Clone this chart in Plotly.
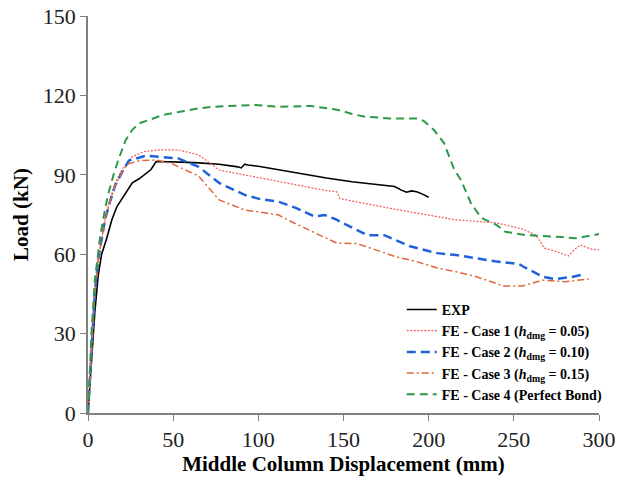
import plotly.graph_objects as go

# EXP
exp_x = [0, 2, 4, 6, 8, 11, 14, 17, 20, 23, 26, 30, 34, 37, 40, 45, 55, 65, 77, 88, 90, 92, 94, 100, 112, 125, 140, 155, 170, 180, 184, 187, 190, 193, 196, 200]
exp_y = [0, 20, 38, 52, 60, 66, 73, 78, 81, 84, 87, 88.5, 90.5, 92, 95, 95, 94.8, 94.5, 94, 93, 92.6, 94, 93.7, 93.2, 91.8, 90.3, 88.8, 87.4, 86.4, 85.6, 84.2, 83.4, 83.9, 83.6, 82.8, 81.5]

# FE - Case 1
c1_x = [0, 2, 4, 6, 8, 10, 13, 16, 20, 26, 33, 42, 53, 65, 77, 92, 100, 112, 125, 140, 146, 148, 160, 180, 205, 216, 240, 255, 263, 268, 275, 282, 286, 289, 295, 300]
c1_y = [0, 25, 45, 58, 66, 73, 81, 87, 92, 96.8, 98.8, 99.4, 99.4, 97.5, 91.8, 90, 89, 87.4, 86, 84, 83.6, 81, 79.5, 77, 74.2, 73, 71.8, 69.5, 67.2, 62.3, 61, 59.3, 62, 63.5, 62, 61.6]

# FE - Case 2
c2_x = [0, 2, 4, 6, 8, 10, 13, 16, 20, 24, 34, 44, 53, 65, 77, 92, 100, 112, 122, 133, 139, 145, 155, 164, 174, 189, 205, 216, 240, 253, 257, 267, 274, 284, 292]
c2_y = [0, 25, 45, 58, 66, 73, 80, 86, 91, 95.4, 97.2, 96.8, 96.2, 93, 86.9, 82.4, 81, 79.8, 77.5, 74.2, 74.8, 73.3, 70, 67.2, 67.2, 63, 60.4, 59.7, 57.2, 56.3, 54.8, 51.5, 50.6, 51.4, 52.5]

# FE - Case 3
c3_x = [0, 2, 4, 6, 8, 10, 13, 16, 20, 23, 30, 40, 49, 57, 65, 77, 92, 100, 112, 117, 132, 146, 158, 170, 181, 193, 205, 216, 228, 244, 255, 267, 280, 294]
c3_y = [0, 25, 45, 58, 66, 73, 80, 86, 91, 94, 95.3, 95.6, 94.3, 92, 89.5, 80.5, 76.7, 76, 74.8, 73, 68.5, 64.2, 64, 61.5, 59, 57.2, 54.8, 53.4, 51.5, 48, 48, 50.2, 49.6, 50.6]

# FE - Case 4
c4_x = [0, 2, 4, 7, 10, 12, 15, 18, 22, 26, 30, 40, 44, 54, 65, 73, 85, 98, 112, 122, 131, 147, 155, 162, 177, 193, 197, 203, 209, 215, 219, 225, 231, 240, 245, 257, 269, 278, 286, 298, 300]
c4_y = [0, 30, 50, 66, 77, 83, 90, 96, 103, 107, 109.4, 111.5, 112.6, 113.8, 115.1, 115.7, 115.9, 116.4, 115.7, 115.8, 116, 114.5, 113, 112, 111.3, 111.3, 110.4, 107, 102, 92, 88, 79, 73.7, 71, 68.5, 67.2, 66.9, 66.5, 66, 67.5, 67.6]

x_ticks = [0, 50, 100, 150, 200, 250, 300]
y_ticks = [0, 30, 60, 90, 120, 150]

series = [
    ("EXP", exp_x, exp_y, dict(color="black", width=1.6, dash="solid")),
    ("FE - Case 1 (<i>h</i><sub>dmg</sub> = 0.05)", c1_x, c1_y, dict(color="#F45A5A", width=1.2, dash="2px,1.5px")),
    ("FE - Case 2 (<i>h</i><sub>dmg</sub> = 0.10)", c2_x, c2_y, dict(color="#1F62D8", width=2.5, dash="9px,5px")),
    ("FE - Case 3 (<i>h</i><sub>dmg</sub> = 0.15)", c3_x, c3_y, dict(color="#E0663C", width=1.5, dash="7px,3px,2px,3px")),
    ("FE - Case 4 (Perfect Bond)", c4_x, c4_y, dict(color="#2A9A48", width=2.0, dash="8px,5px")),
]

fig = go.Figure()
for name, xs, ys, ln in series:
    fig.add_trace(go.Scatter(x=xs, y=ys, mode="lines", name=name, line=ln))

axis_common = dict(
    showgrid=False, zeroline=False, showline=True, linecolor="#808080", linewidth=1.5,
    ticks="outside", tickcolor="#808080", ticklen=6, tickwidth=1.2, automargin=False,
    tickfont=dict(family="Liberation Serif", size=22, color="#222"),
)

fig.update_layout(
    width=620, height=480,
    margin=dict(l=88, r=16, t=16, b=67),
    plot_bgcolor="white", paper_bgcolor="white",
    xaxis=dict(range=[0, 300], tickvals=x_ticks, **axis_common,
               title=dict(text="Middle Column Displacement (mm)", standoff=4,
                          font=dict(family="Liberation Serif", size=21, color="black", weight="bold"))),
    yaxis=dict(range=[0, 150], tickvals=y_ticks, **axis_common,
               title=dict(text="Load (kN)", standoff=8,
                          font=dict(family="Liberation Serif", size=21, color="black", weight="bold"))),
    legend=dict(x=0.614, y=0.30, xanchor="left", yanchor="top", bgcolor="rgba(0,0,0,0)",
                font=dict(family="Liberation Serif", size=14, color="black", weight="bold"),
                itemwidth=30, tracegroupgap=0),
    showlegend=True,
)

fig.write_html("out.html")
